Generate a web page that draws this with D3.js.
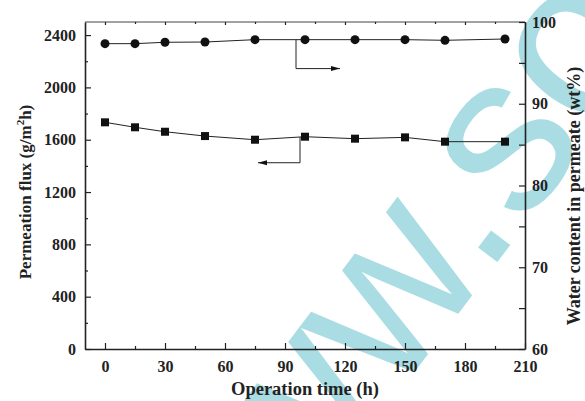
<!DOCTYPE html>
<html><head><meta charset="utf-8">
<script src="https://cdn.jsdelivr.net/npm/d3@7"></script>
<style>body{margin:0;background:#fff} svg{display:block}</style>
</head><body><svg id="c" width="585" height="401"></svg>
<script>
const time = [0,15,30,50,75,100,125,150,170,200];
const flux = [1733,1695,1661,1628,1600,1623,1608,1618,1585,1585];
const water = [97.35,97.35,97.52,97.55,97.84,97.84,97.84,97.84,97.76,97.92];
const xTicks = [0,30,60,90,120,150,180,210];
const xMinor = [15,45,75,105,135,165,195];
const fluxTicks = [0,400,800,1200,1600,2000,2400];
const fluxMinor = [200,600,1000,1400,1800,2200];
const waterTicks = [60,70,80,90,100];
const waterMinor = [65,75,85,95];
// annotation arrows: [time, value] path points (left axis for flux, right axis for water)
const waterArrow = [[95.5,97.84],[95.5,94.3],[117.5,94.3]];
const fluxArrow = [[97.5,1621],[97.5,1424],[76.5,1424]];

const svg = d3.select("#c");
const L=85,R=525,T=22,B=349;
const x = d3.scaleLinear([-10,210],[L,R]);
const yL = d3.scaleLinear([0,2500],[B,T]);
const yR = d3.scaleLinear([60,100],[B,T]);
const font = "'Liberation Serif','Times New Roman',serif";
const fmt = d3.format("d");

// watermark
svg.append("text").text("www.so")
  .attr("transform","translate(199,658) rotate(-53)")
  .attr("font-family","'Liberation Sans',Arial,sans-serif")
  .attr("font-size",225).attr("fill","#a9dde3");

// frame top
svg.append("line").attr("x1",L).attr("x2",R).attr("y1",T).attr("y2",T).attr("stroke","#444").attr("stroke-width",1);

function axisStyle(g){ g.select(".domain").attr("stroke","#222").attr("stroke-width",1.6);
  g.selectAll(".tick line").attr("stroke","#222").attr("stroke-width",1.2);
  g.selectAll("text").attr("font-family",font).attr("font-weight","bold").attr("font-size",16).attr("fill","#222"); }

// bottom axis
svg.append("g").attr("transform",`translate(0,${B})`)
  .call(d3.axisBottom(x).tickValues(xTicks).tickFormat(fmt).tickSize(-6).tickSizeOuter(0).tickPadding(12))
  .call(axisStyle);
svg.append("g").attr("transform",`translate(0,${B})`)
  .call(d3.axisBottom(x).tickValues(xMinor).tickSize(-3).tickFormat("")).call(axisStyle)
  .select(".domain").remove();
// top ticks
svg.append("g").attr("transform",`translate(0,${T})`)
  .call(d3.axisTop(x).tickValues(xTicks).tickSize(-3).tickFormat("")).call(axisStyle)
  .call(g=>g.select(".domain").remove());
svg.append("g").attr("transform",`translate(0,${T})`)
  .call(d3.axisTop(x).tickValues(xMinor).tickSize(-2).tickFormat("")).call(axisStyle)
  .call(g=>g.select(".domain").remove());

// left axis
svg.append("g").attr("transform",`translate(${L},0)`)
  .call(d3.axisLeft(yL).tickValues(fluxTicks).tickFormat(fmt).tickSize(-6).tickSizeOuter(0).tickPadding(9))
  .call(axisStyle);
svg.append("g").attr("transform",`translate(${L},0)`)
  .call(d3.axisLeft(yL).tickValues(fluxMinor).tickSize(-3).tickFormat("")).call(axisStyle)
  .call(g=>g.select(".domain").remove());
// right axis
svg.append("g").attr("transform",`translate(${R},0)`)
  .call(d3.axisRight(yR).tickValues(waterTicks).tickFormat(fmt).tickSize(-6).tickSizeOuter(0).tickPadding(7))
  .call(axisStyle);
svg.append("g").attr("transform",`translate(${R},0)`)
  .call(d3.axisRight(yR).tickValues(waterMinor).tickSize(-6).tickFormat("")).call(axisStyle)
  .call(g=>g.select(".domain").remove());

// lines
const fluxData = time.map((t,i)=>[t,flux[i]]);
const waterData = time.map((t,i)=>[t,water[i]]);
svg.append("path").datum(fluxData).attr("fill","none").attr("stroke","#222").attr("stroke-width",1)
  .attr("d",d3.line().x(d=>x(d[0])).y(d=>yL(d[1])));
svg.append("path").datum(waterData).attr("fill","none").attr("stroke","#222").attr("stroke-width",1)
  .attr("d",d3.line().x(d=>x(d[0])).y(d=>yR(d[1])));
svg.selectAll(".sq").data(fluxData).join("rect")
  .attr("x",d=>x(d[0])-4).attr("y",d=>yL(d[1])-4).attr("width",8).attr("height",8).attr("fill","#111");
svg.selectAll(".ci").data(waterData).join("circle")
  .attr("cx",d=>x(d[0])).attr("cy",d=>yR(d[1])).attr("r",4.5).attr("fill","#111");

// arrows
function arrow(pts, ys){
  const p = pts.map(d=>[x(d[0]), ys(d[1])]);
  svg.append("path").attr("d",d3.line()(p)).attr("fill","none").attr("stroke","#222").attr("stroke-width",1);
  const [a,b] = [p[p.length-2], p[p.length-1]];
  const dir = Math.sign(b[0]-a[0]);
  svg.append("path").attr("d",`M${b[0]},${b[1]} L${b[0]-dir*9},${b[1]-2.5} L${b[0]-dir*9},${b[1]+2.5} Z`).attr("fill","#111");
}
arrow(waterArrow, yR);
arrow(fluxArrow, yL);

// titles
svg.append("text").attr("x",305).attr("y",395).attr("text-anchor","middle")
  .attr("font-family",font).attr("font-weight","bold").attr("font-size",18.5).attr("fill","#222")
  .text("Operation time (h)");
const lt = svg.append("text").attr("transform",`translate(31,192) rotate(-90)`).attr("text-anchor","middle")
  .attr("font-family",font).attr("font-weight","bold").attr("font-size",17).attr("fill","#222");
lt.append("tspan").text("Permeation flux (g/m");
lt.append("tspan").text("2").attr("font-size",11).attr("dy",-7);
lt.append("tspan").text("h)").attr("dy",7);
svg.append("text").attr("transform",`translate(580,196) rotate(-90)`).attr("text-anchor","middle")
  .attr("font-family",font).attr("font-weight","bold").attr("font-size",18).attr("fill","#222")
  .text("Water content in permeate (wt%)");
</script></body></html>
